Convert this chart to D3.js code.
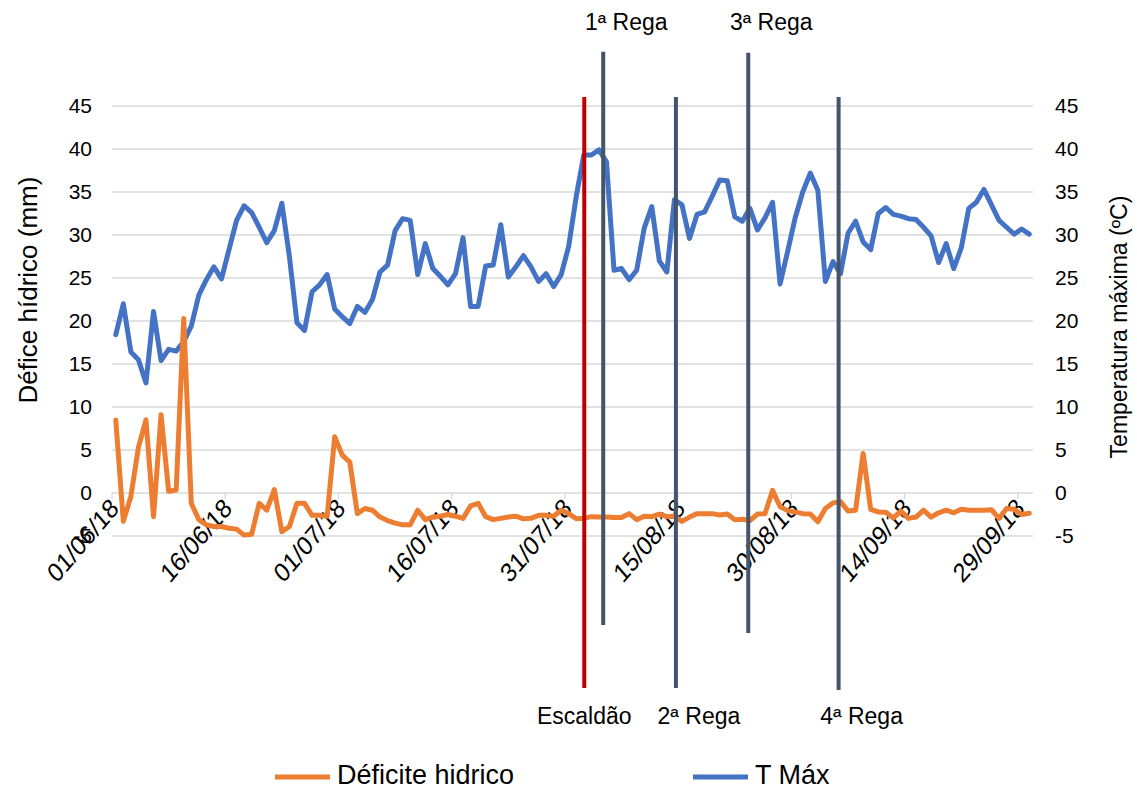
<!DOCTYPE html>
<html><head><meta charset="utf-8">
<script src="https://cdn.jsdelivr.net/npm/d3@7"></script>
<style>
body{margin:0;background:#fff}
svg{display:block}
text{font-family:Arial,"Liberation Sans",sans-serif;fill:#000}
</style>
</head><body>
<svg id="chart" width="1137" height="790"></svg>
<script>
// ---------- DATA ----------
const startDate = "01/06/18";
const tmax = [18.4,22.0,16.4,15.5,12.8,21.1,15.4,16.7,16.5,17.6,19.4,23.0,24.8,26.3,24.9,28.3,31.7,33.4,32.6,30.9,
  29.1,30.5,33.7,27.5,19.8,18.9,23.4,24.2,25.4,21.4,20.5,19.7,21.7,21.0,22.5,25.7,26.5,30.5,31.9,31.7,
  25.4,29.0,26.1,25.2,24.2,25.5,29.7,21.7,21.7,26.4,26.5,31.2,25.1,26.3,27.6,26.3,24.6,25.5,24.0,25.4,
  28.7,34.5,39.3,39.3,39.9,38.5,25.9,26.1,24.8,25.9,30.8,33.3,27.0,25.7,34.1,33.5,29.6,32.4,32.7,34.5,
  36.4,36.3,32.1,31.6,33.1,30.6,32.0,33.8,24.3,28.1,32.0,35.0,37.2,35.2,24.6,26.9,25.5,30.2,31.6,29.2,
  28.3,32.5,33.2,32.4,32.2,31.9,31.8,30.9,29.9,26.8,29.0,26.1,28.5,33.1,33.8,35.3,33.5,31.7,30.9,30.1,
  30.7,30.1];
const deficit = [8.5,-3.3,-0.4,5.3,8.5,-2.75,9.1,0.2,0.35,20.3,-1.2,-3.1,-3.7,-3.9,-3.9,-4.1,-4.2,-4.9,-4.8,-1.2,
  -2.0,0.4,-4.5,-3.9,-1.2,-1.2,-2.6,-2.6,-2.7,6.55,4.4,3.6,-2.4,-1.8,-2.0,-2.8,-3.2,-3.5,-3.7,-3.7,
  -2.0,-3.1,-2.8,-2.7,-2.5,-2.7,-2.95,-1.5,-1.2,-2.75,-3.1,-2.95,-2.8,-2.7,-3.0,-2.95,-2.6,-2.6,-2.7,-2.0,
  -2.4,-3.0,-2.95,-2.75,-2.8,-2.8,-2.85,-2.85,-2.4,-3.1,-2.7,-2.75,-2.45,-2.75,-2.7,-3.3,-2.8,-2.4,-2.4,-2.4,
  -2.55,-2.45,-3.1,-3.05,-3.2,-2.45,-2.4,0.3,-1.6,-2.05,-2.2,-2.4,-2.45,-3.35,-1.8,-1.15,-1.0,-2.1,-2.0,4.6,
  -1.9,-2.2,-2.25,-2.9,-2.1,-2.95,-2.8,-2.0,-2.8,-2.3,-2.0,-2.3,-1.9,-2.0,-2.0,-2.0,-1.95,-2.95,-1.8,-1.9,
  -2.5,-2.35];
const yTicks = [-5,0,5,10,15,20,25,30,35,40,45];
const xTickLabels = ["01/06/18","16/06/18","01/07/18","16/07/18","31/07/18","15/08/18","30/08/18","14/09/18","29/09/18"];
const seriesNames = ["Déficite hidrico","T Máx"];
// event markers (days after 01/06/18, and value extents of each marker line)
const eventLabels = ["Escaldão","1ª Rega","2ª Rega","3ª Rega","4ª Rega"];
const eventDays = [62.56,65.07,74.7,84.28,96.25];
const eventTop = [46.05,51.3,46.05,51.2,46.05];
const eventBottom = [-22.67,-15.35,-22.67,-16.28,-22.9];
const eventLabelSide = ["bottom","top","bottom","top","bottom"];

// ---------- STYLE ----------
const C_ORANGE="#ED7D31", C_BLUE="#4472C4", C_RED="#C00000", C_SLATE="#44546A", C_GRID="#D9D9D9";
const svg = d3.select("#chart");
const parse = d3.timeParse("%d/%m/%y");
const d0 = parse(startDate);
const nDays = tmax.length;
const dEnd = d3.timeDay.offset(d0, nDays);

const x = d3.scaleTime().domain([d0, dEnd]).range([112, 1033]);
const y = d3.scaleLinear().domain([-5, 45]).range([536, 106]);
const dayX = d => x(new Date(d0.getTime() + d*864e5));
const ptX = i => dayX(i + 0.5);

// gridlines
svg.append("g").selectAll("line").data(yTicks).join("line")
  .attr("x1", x.range()[0]).attr("x2", x.range()[1])
  .attr("y1", d=>y(d)).attr("y2", d=>y(d))
  .attr("stroke", C_GRID).attr("stroke-width", 1.3);

// x axis tick marks at zero line
const xTickDates = xTickLabels.map(parse);
svg.append("g").selectAll("line").data(xTickDates).join("line")
  .attr("x1", d=>x(d)).attr("x2", d=>x(d))
  .attr("y1", y(0)).attr("y2", y(0)+6)
  .attr("stroke", C_GRID).attr("stroke-width", 1.3);

// x tick labels rotated
svg.append("g").selectAll("text").data(xTickDates).join("text")
  .attr("transform", (d)=>`translate(${x(d)+8},${y(0)+17}) scale(1,1.17) rotate(-45)`)
  .attr("text-anchor","end")
  .style("font-size","23px")
  .text((d,i)=>xTickLabels[i]);

// left y labels
svg.append("g").selectAll("text").data(yTicks).join("text")
  .attr("x", 92).attr("y", d=>y(d)).attr("dy","0.35em")
  .attr("text-anchor","end").style("font-size","21px")
  .text(d=>d);
// right y labels
svg.append("g").selectAll("text").data(yTicks).join("text")
  .attr("x", 1055).attr("y", d=>y(d)).attr("dy","0.35em")
  .attr("text-anchor","start").style("font-size","21px")
  .text(d=>d);

// axis titles
svg.append("text").attr("transform","translate(37,290) rotate(-90)")
  .attr("text-anchor","middle").style("font-size","26px").text("Défice hídrico (mm)");
svg.append("text").attr("transform","translate(1127,327) rotate(-90)")
  .attr("text-anchor","middle").style("font-size","23px").text("Temperatura máxima (ºC)");

// lines
const line = d3.line().x((d,i)=>ptX(i)).y(d=>y(d)).curve(d3.curveLinear);
svg.append("path").datum(tmax).attr("d", line)
  .attr("fill","none").attr("stroke",C_BLUE).attr("stroke-width",5).attr("stroke-linejoin","round").attr("stroke-linecap","round");
svg.append("path").datum(deficit).attr("d", line)
  .attr("fill","none").attr("stroke",C_ORANGE).attr("stroke-width",5).attr("stroke-linejoin","round").attr("stroke-linecap","round");

// event lines
const ev = eventLabels.map((l,i)=>({label:l, day:eventDays[i], top:eventTop[i], bottom:eventBottom[i], side:eventLabelSide[i]}));
svg.append("g").selectAll("line").data(ev).join("line")
  .attr("x1", d=>dayX(d.day)).attr("x2", d=>dayX(d.day))
  .attr("y1", d=>y(d.top)).attr("y2", d=>y(d.bottom))
  .attr("stroke", (d,i)=> i===0 ? C_RED : C_SLATE).attr("stroke-width",4);
svg.append("g").selectAll("text").data(ev).join("text")
  .attr("x", (d,i)=> dayX(d.day) + (i===0 ? 0 : 23))
  .attr("y", d=> d.side==="top" ? 30 : 724)
  .attr("text-anchor","middle").style("font-size","23px")
  .text(d=>d.label);

// legend
const lg = svg.append("g");
const legX = [275, 693];
const legC = [C_ORANGE, C_BLUE];
seriesNames.forEach((n,i)=>{
  lg.append("line").attr("x1",legX[i]).attr("x2",legX[i]+55).attr("y1",777).attr("y2",777)
    .attr("stroke",legC[i]).attr("stroke-width",5);
  lg.append("text").attr("x",legX[i]+62).attr("y",784).style("font-size","27px").text(n);
});
</script>
</body></html>
